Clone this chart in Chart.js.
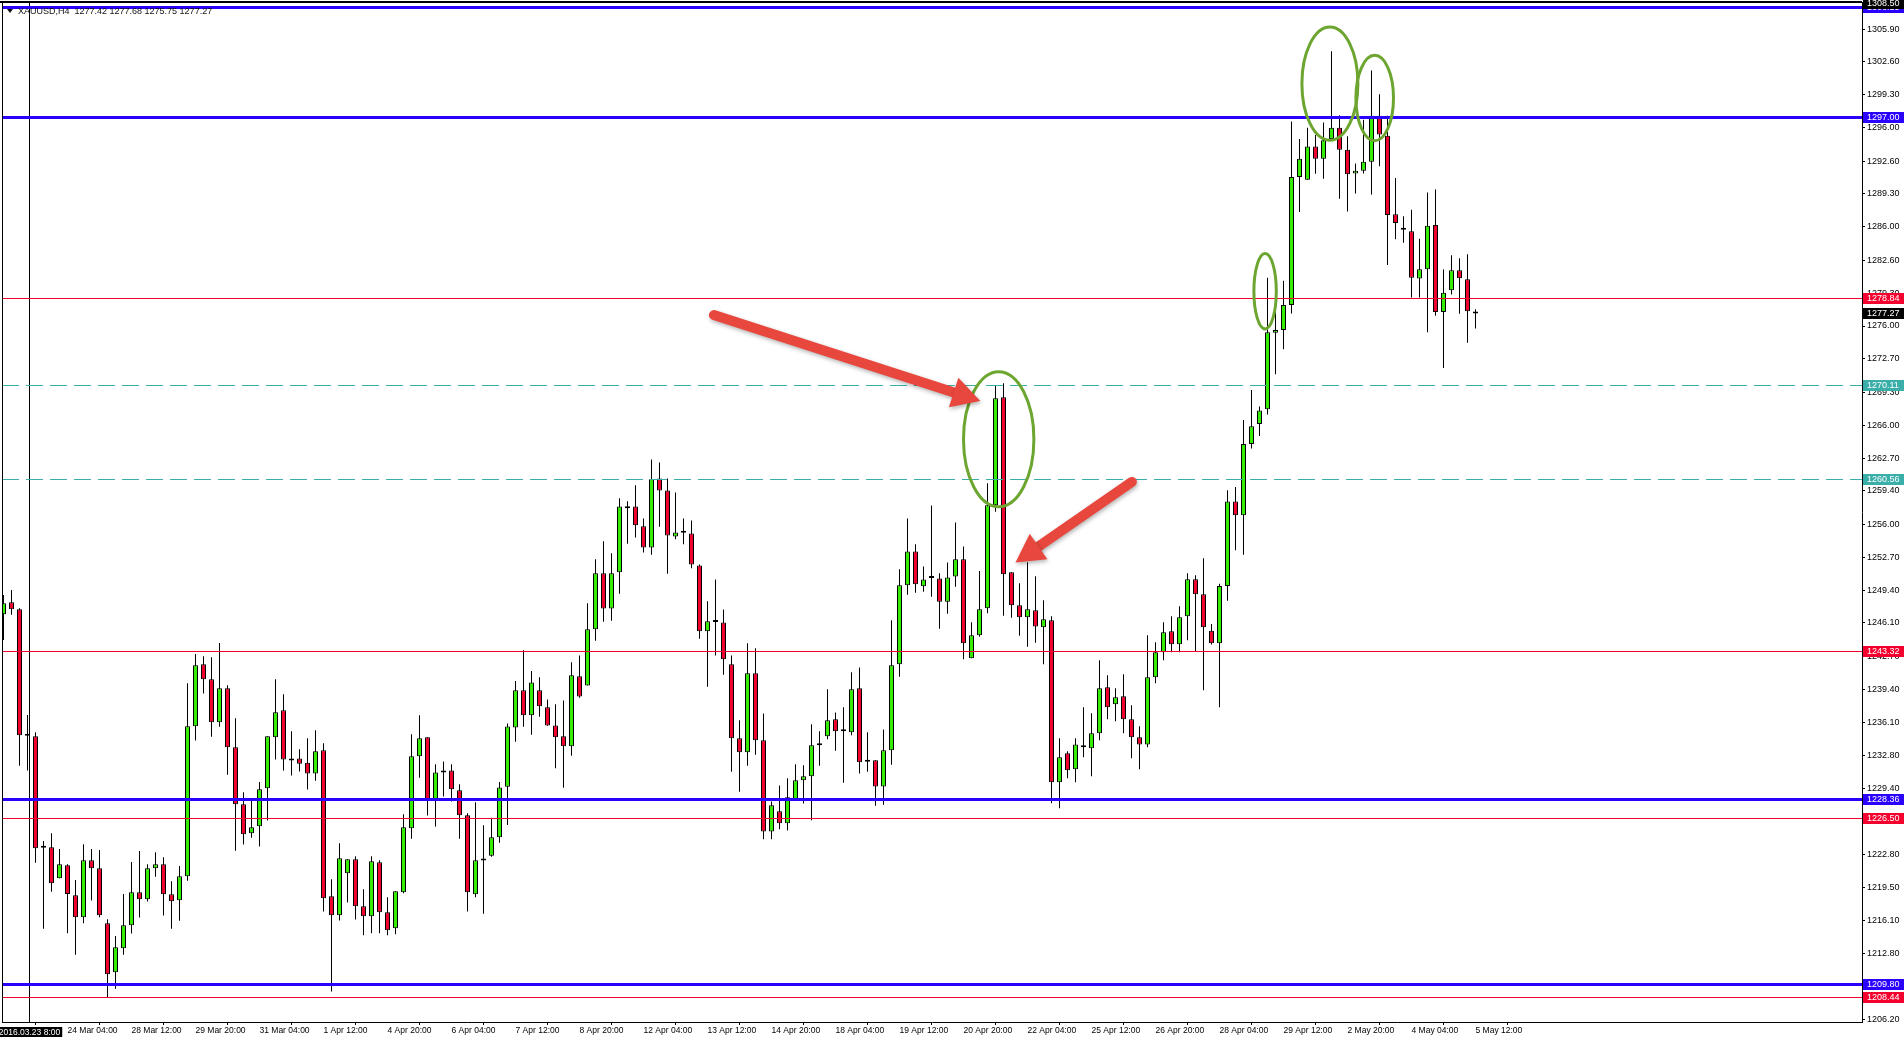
<!DOCTYPE html>
<html>
<head>
<meta charset="utf-8">
<title>XAUUSD,H4</title>
<script src="https://cdn.jsdelivr.net/npm/chart.js@4.4.1/dist/chart.umd.min.js"></script>
<style>
  html, body { margin: 0; padding: 0; background: #fff; overflow: hidden; }
  #wrap { width: 1904px; height: 1043px; }
</style>
</head>
<body>
<div id="wrap"><canvas id="priceChart" width="1904" height="1043"></canvas></div>
<script>
// XAUUSD H4 candles, 22 Mar 20:00 .. 5 May 12:00 (one entry per candle)
const opens = [
  1246.97, 1248.18, 1247.48, 1234.76, 1234.69, 1223.48, 1223.52, 1220.40, 1221.71, 1218.69,
  1216.47, 1222.21, 1221.40, 1215.87, 1210.93, 1213.35, 1215.67, 1218.99, 1218.28, 1221.40,
  1221.81, 1218.79, 1218.18, 1220.60, 1235.70, 1241.94, 1240.43, 1236.10, 1239.52, 1233.58,
  1227.85, 1224.93, 1225.63, 1229.46, 1234.59, 1237.31, 1232.45, 1232.45, 1232.04, 1230.94,
  1233.29, 1218.59, 1216.68, 1220.90, 1222.31, 1217.58, 1216.57, 1222.01, 1216.98, 1215.37,
  1218.99, 1225.43, 1232.68, 1234.59, 1228.35, 1231.04, 1231.24, 1229.26, 1226.74, 1218.79,
  1222.18, 1222.67, 1224.52, 1229.62, 1235.59, 1239.32, 1236.80, 1239.32, 1237.61, 1235.79,
  1234.69, 1233.68, 1240.73, 1239.82, 1245.46, 1251.10, 1247.57, 1251.20, 1257.84, 1257.84,
  1255.83, 1253.71, 1260.66, 1259.45, 1254.82, 1255.19, 1255.12, 1251.90, 1245.26, 1246.20,
  1246.16, 1241.94, 1234.49, 1233.08, 1241.03, 1234.29, 1225.12, 1227.14, 1225.93, 1228.35,
  1230.26, 1230.66, 1233.78, 1234.69, 1236.40, 1235.19, 1235.09, 1239.52, 1232.14, 1232.27,
  1229.65, 1233.28, 1241.94, 1249.89, 1253.31, 1249.79, 1250.63, 1250.59, 1248.24, 1250.79,
  1252.51, 1242.54, 1244.86, 1247.58, 1257.95, 1268.82, 1251.20, 1247.88, 1246.67, 1247.38,
  1245.66, 1246.37, 1230.06, 1232.98, 1231.37, 1233.78, 1233.48, 1235.00, 1239.62, 1237.91,
  1238.72, 1236.40, 1234.59, 1233.88, 1240.63, 1243.15, 1245.26, 1243.95, 1246.77, 1250.50,
  1248.99, 1245.33, 1244.06, 1249.83, 1258.34, 1256.95, 1264.11, 1266.14, 1267.62, 1275.33,
  1275.60, 1278.12, 1291.00, 1290.73, 1294.07, 1292.85, 1294.83, 1295.96, 1293.75, 1291.36,
  1291.63, 1292.53, 1297.17, 1295.15, 1287.26, 1285.69, 1285.55, 1280.78, 1281.72, 1286.18,
  1277.40, 1279.59, 1281.61, 1280.70, 1277.42
];
const highs = [
  1248.92, 1249.42, 1247.58, 1236.84, 1235.09, 1224.16, 1224.93, 1223.35, 1221.81, 1220.23,
  1223.82, 1223.35, 1223.25, 1216.27, 1214.59, 1218.82, 1222.04, 1223.15, 1221.81, 1223.01,
  1222.51, 1220.09, 1221.64, 1240.03, 1242.98, 1242.75, 1242.65, 1244.09, 1239.83, 1236.50,
  1229.05, 1228.29, 1230.10, 1234.69, 1240.43, 1238.92, 1235.20, 1233.39, 1234.49, 1235.30,
  1233.99, 1220.30, 1223.92, 1222.31, 1222.61, 1219.29, 1222.61, 1222.21, 1218.49, 1219.09,
  1226.84, 1234.90, 1236.81, 1234.59, 1231.88, 1232.15, 1231.88, 1229.86, 1226.94, 1228.05,
  1225.73, 1226.50, 1230.09, 1235.99, 1240.26, 1243.35, 1241.27, 1240.63, 1238.41, 1237.91,
  1238.31, 1242.14, 1242.84, 1248.08, 1252.51, 1254.32, 1253.11, 1258.65, 1258.35, 1259.96,
  1256.63, 1262.57, 1262.27, 1260.66, 1259.25, 1256.63, 1256.43, 1252.00, 1248.28, 1250.49,
  1247.47, 1242.84, 1236.30, 1244.05, 1243.55, 1237.00, 1228.14, 1229.75, 1230.46, 1231.87,
  1231.77, 1235.90, 1235.19, 1239.42, 1237.10, 1237.61, 1241.13, 1241.63, 1235.09, 1232.27,
  1235.39, 1246.37, 1251.50, 1256.63, 1254.02, 1251.80, 1257.94, 1251.10, 1252.20, 1256.23,
  1253.81, 1246.17, 1251.34, 1260.16, 1270.06, 1270.23, 1251.20, 1250.09, 1252.21, 1250.80,
  1248.38, 1246.77, 1234.49, 1233.18, 1234.49, 1237.61, 1237.01, 1242.34, 1240.83, 1239.52,
  1240.93, 1237.81, 1235.70, 1244.86, 1244.15, 1246.17, 1246.77, 1247.78, 1251.10, 1250.90,
  1252.61, 1246.00, 1250.06, 1259.47, 1259.79, 1266.54, 1269.56, 1267.89, 1280.87, 1277.71,
  1280.55, 1296.59, 1294.83, 1295.96, 1295.24, 1296.50, 1303.66, 1297.22, 1295.10, 1292.35,
  1296.77, 1301.72, 1299.34, 1297.17, 1290.91, 1287.04, 1287.71, 1284.79, 1289.43, 1289.74,
  1281.68, 1283.12, 1282.81, 1283.22, 1277.68
];
const lows = [
  1244.39, 1246.94, 1231.74, 1231.24, 1221.97, 1215.33, 1219.05, 1220.40, 1214.86, 1212.71,
  1215.87, 1218.15, 1216.47, 1208.42, 1209.29, 1212.71, 1214.83, 1216.44, 1218.05, 1220.56,
  1216.64, 1215.33, 1216.13, 1220.16, 1234.26, 1238.99, 1234.66, 1235.66, 1230.83, 1223.18,
  1223.79, 1224.49, 1223.59, 1226.21, 1232.35, 1231.24, 1230.74, 1231.14, 1229.33, 1230.23,
  1217.05, 1208.99, 1216.14, 1217.95, 1216.24, 1214.66, 1214.86, 1214.86, 1214.66, 1214.76,
  1218.89, 1224.39, 1230.53, 1226.71, 1225.60, 1228.62, 1228.12, 1224.39, 1217.05, 1218.49,
  1216.84, 1222.57, 1223.98, 1225.76, 1234.15, 1235.66, 1234.86, 1236.67, 1235.76, 1231.47,
  1229.52, 1232.74, 1238.58, 1239.82, 1244.32, 1246.23, 1246.33, 1249.05, 1254.08, 1254.72,
  1253.21, 1252.98, 1255.80, 1251.06, 1254.52, 1254.02, 1251.60, 1244.52, 1239.69, 1242.84,
  1240.90, 1231.13, 1229.12, 1231.74, 1232.84, 1224.32, 1224.32, 1225.33, 1225.22, 1228.35,
  1227.94, 1226.23, 1231.74, 1234.39, 1233.24, 1230.02, 1234.79, 1230.96, 1231.13, 1227.71,
  1227.81, 1231.84, 1240.70, 1248.95, 1249.15, 1249.25, 1248.75, 1245.53, 1247.04, 1249.75,
  1242.44, 1242.54, 1244.72, 1247.07, 1257.31, 1246.84, 1246.64, 1244.82, 1243.72, 1244.12,
  1241.94, 1227.95, 1227.44, 1230.46, 1230.06, 1232.58, 1230.66, 1234.29, 1236.40, 1236.20,
  1235.00, 1232.48, 1231.37, 1233.58, 1240.03, 1242.34, 1243.15, 1243.15, 1244.36, 1243.25,
  1239.32, 1243.93, 1237.62, 1248.34, 1253.43, 1252.98, 1263.66, 1264.92, 1267.08, 1271.14,
  1273.66, 1277.26, 1287.49, 1290.73, 1291.32, 1290.82, 1294.65, 1288.80, 1287.53, 1289.34,
  1291.36, 1289.25, 1292.08, 1282.13, 1284.74, 1284.38, 1278.88, 1278.88, 1275.37, 1277.04,
  1271.77, 1279.16, 1277.24, 1274.32, 1275.75
];
const closes = [
  1248.08, 1247.48, 1234.79, 1234.76, 1223.42, 1223.48, 1219.89, 1221.81, 1218.82, 1216.47,
  1222.21, 1221.40, 1216.67, 1210.73, 1213.45, 1215.67, 1218.99, 1218.28, 1221.40, 1221.81,
  1218.79, 1218.08, 1220.60, 1235.70, 1241.84, 1240.43, 1236.10, 1239.52, 1233.58, 1227.85,
  1224.83, 1225.53, 1229.36, 1234.69, 1237.11, 1232.35, 1232.25, 1231.94, 1230.94, 1233.18,
  1218.39, 1216.68, 1222.41, 1222.31, 1217.58, 1216.57, 1222.11, 1216.98, 1215.16, 1219.09,
  1225.53, 1232.68, 1234.49, 1228.35, 1231.04, 1231.24, 1229.36, 1226.74, 1218.99, 1222.21,
  1222.18, 1224.52, 1229.55, 1235.69, 1239.32, 1236.80, 1240.12, 1237.71, 1235.79, 1234.59,
  1233.68, 1240.83, 1238.71, 1245.46, 1251.10, 1247.57, 1251.10, 1257.84, 1257.64, 1255.93,
  1253.71, 1260.56, 1259.45, 1254.92, 1255.22, 1255.19, 1252.00, 1245.26, 1246.27, 1246.20,
  1242.44, 1234.49, 1233.08, 1241.03, 1234.29, 1225.12, 1227.74, 1225.93, 1228.55, 1230.26,
  1230.66, 1233.78, 1233.78, 1236.30, 1235.19, 1235.19, 1239.42, 1232.07, 1232.14, 1229.65,
  1233.28, 1241.84, 1249.89, 1253.31, 1249.99, 1250.49, 1250.63, 1248.24, 1250.69, 1252.51,
  1244.05, 1244.86, 1247.48, 1257.95, 1268.72, 1251.00, 1247.88, 1246.67, 1247.48, 1245.76,
  1246.47, 1230.06, 1232.58, 1231.27, 1233.88, 1233.58, 1235.00, 1239.52, 1237.61, 1238.62,
  1236.40, 1234.59, 1233.88, 1240.63, 1243.15, 1245.16, 1243.95, 1246.67, 1250.50, 1248.99,
  1245.66, 1244.06, 1249.83, 1258.34, 1256.95, 1264.11, 1265.91, 1267.49, 1275.37, 1275.60,
  1278.12, 1291.00, 1292.85, 1294.07, 1292.85, 1294.70, 1295.96, 1293.75, 1291.27, 1291.63,
  1292.53, 1297.17, 1295.28, 1287.17, 1286.36, 1285.69, 1280.87, 1281.72, 1286.09, 1277.40,
  1279.34, 1281.61, 1280.80, 1277.48, 1277.27
];

// Time axis labels (every 8th candle)
const xTickIndex = [8, 16, 24, 32, 40, 48, 56, 64, 72, 80, 88, 96, 104, 112, 120, 128, 136, 144, 152, 160, 168, 176, 184];
const xTickLabels = ['24 Mar 04:00', '28 Mar 12:00', '29 Mar 20:00', '31 Mar 04:00', '1 Apr 12:00', '4 Apr 20:00',
  '6 Apr 04:00', '7 Apr 12:00', '8 Apr 20:00', '12 Apr 04:00', '13 Apr 12:00', '14 Apr 20:00', '18 Apr 04:00',
  '19 Apr 12:00', '20 Apr 20:00', '22 Apr 04:00', '25 Apr 12:00', '26 Apr 20:00', '28 Apr 04:00', '29 Apr 12:00',
  '2 May 20:00', '4 May 04:00', '5 May 12:00'];

// Price axis labels
const yTickValues = [1305.90, 1302.60, 1299.30, 1296.00, 1292.60, 1289.30, 1286.00, 1282.60, 1279.30, 1276.00,
  1272.70, 1269.30, 1266.00, 1262.70, 1259.40, 1256.00, 1252.70, 1249.40, 1246.10, 1242.70, 1239.40, 1236.10,
  1232.80, 1229.40, 1226.10, 1222.80, 1219.50, 1216.10, 1212.80, 1209.50, 1206.20];

// Horizontal levels drawn on the chart
const levelPrices = [1308.15, 1297.00, 1278.84, 1270.11, 1260.56, 1243.32, 1228.36, 1226.50, 1209.80, 1208.44];
const levelKinds = ['blue', 'blue', 'red', 'teal', 'teal', 'red', 'blue', 'red', 'blue', 'red'];

const symbolTitle = 'XAUUSD,H4  1277.42 1277.68 1275.75 1277.27';
const topPriceLabel = 1308.50;
const lastPrice = 1277.27;
const separatorTime = '2016.03.23 8:00';
const separatorCandle = 3;

// Hand drawn marks, in candle index / price units
const ellipses = [
    { x: 124.4, y: 1264.6, rx: 4.4, ry: 6.8 },
    { x: 157.7, y: 1279.5, rx: 1.4, ry: 3.8 },
    { x: 165.8, y: 1300.4, rx: 3.5, ry: 5.7 },
    { x: 171.4, y: 1298.95, rx: 2.35, ry: 4.3 }
];
const arrows = [
    { x1: 88.8, y1: 1277.1, x2: 122.1, y2: 1268.45 },
    { x1: 141.05, y1: 1260.3, x2: 126.5, y2: 1252.2 }
];

const UP = '#33EE00';
const DOWN = '#F0002D';
const levelStyle = {
    blue: { color: '#2A00FF', width: 3, dash: [] },
    red: { color: '#F5002E', width: 1, dash: [] },
    teal: { color: '#3AAFA9', width: 1, dash: [17, 7] }
};

function drawArrow(ctx, x1, y1, x2, y2) {
    const ang = Math.atan2(y2 - y1, x2 - x1);
    const cos = Math.cos(ang), sin = Math.sin(ang);
    const headLen = 28, headW = 31;
    const bx = x2 - cos * headLen, by = y2 - sin * headLen;
    ctx.save();
    ctx.shadowColor = 'rgba(0,0,0,0.3)';
    ctx.shadowBlur = 4;
    ctx.shadowOffsetX = 1;
    ctx.shadowOffsetY = 2;
    ctx.strokeStyle = '#E8473E';
    ctx.fillStyle = '#E8473E';
    ctx.lineWidth = 10;
    ctx.lineCap = 'round';
    ctx.beginPath();
    ctx.moveTo(x1, y1);
    ctx.lineTo(bx + cos * 2, by + sin * 2);
    ctx.stroke();
    ctx.beginPath();
    ctx.moveTo(x2, y2);
    ctx.lineTo(bx + sin * headW / 2, by - cos * headW / 2);
    ctx.lineTo(bx - sin * headW / 2, by + cos * headW / 2);
    ctx.closePath();
    ctx.fill();
    ctx.restore();
}

function drawBox(ctx, chart, yPix, text, bg) {
    const left = chart.chartArea.right + 1;
    ctx.fillStyle = bg;
    ctx.fillRect(left, Math.round(yPix) - 5, chart.width - left, 11);
    ctx.fillStyle = '#fff';
    ctx.font = '9px "Liberation Sans", Arial, sans-serif';
    ctx.textAlign = 'left';
    ctx.textBaseline = 'middle';
    ctx.fillText(text, left + 4, Math.round(yPix) + 0.5);
}

const mt4Overlay = {
    id: 'mt4Overlay',
    afterDatasetsDraw(chart) {
        const { ctx, chartArea: a, scales } = chart;
        const x = scales.x, y = scales.y;
        ctx.save();

        // period separator
        const sx = Math.round(x.getPixelForValue(separatorCandle)) + 1.5;
        ctx.strokeStyle = '#000';
        ctx.lineWidth = 1;
        ctx.beginPath();
        ctx.moveTo(sx, a.top);
        ctx.lineTo(sx, a.bottom);
        ctx.stroke();

        // horizontal levels
        levelPrices.forEach((p, i) => {
            const st = levelStyle[levelKinds[i]];
            const py = Math.round(y.getPixelForValue(p)) + 0.5;
            ctx.strokeStyle = st.color;
            ctx.lineWidth = st.width;
            ctx.setLineDash(st.dash);
            ctx.beginPath();
            ctx.moveTo(a.left, py);
            ctx.lineTo(a.right, py);
            ctx.stroke();
        });
        ctx.setLineDash([]);

        // frame
        ctx.strokeStyle = '#000';
        ctx.lineWidth = 2;
        ctx.beginPath();
        ctx.moveTo(0, a.top);
        ctx.lineTo(a.right, a.top);
        ctx.stroke();
        ctx.lineWidth = 1;
        ctx.beginPath();
        ctx.moveTo(a.left + 0.5, a.top);
        ctx.lineTo(a.left + 0.5, a.bottom);
        ctx.stroke();

        // ellipses
        ctx.strokeStyle = '#6CA52F';
        ctx.lineWidth = 3;
        ellipses.forEach(e => {
            const cx = x.getPixelForValue(e.x);
            const cy = y.getPixelForValue(e.y);
            const rx = Math.abs(x.getPixelForValue(e.x + e.rx) - cx);
            const ry = Math.abs(y.getPixelForValue(e.y + e.ry) - cy);
            ctx.beginPath();
            ctx.ellipse(cx, cy, rx, ry, 0, 0, Math.PI * 2);
            ctx.stroke();
        });

        // arrows
        arrows.forEach(r => {
            drawArrow(ctx, x.getPixelForValue(r.x1), y.getPixelForValue(r.y1),
                x.getPixelForValue(r.x2), y.getPixelForValue(r.y2));
        });

        // symbol header
        ctx.fillStyle = '#111';
        ctx.beginPath();
        ctx.moveTo(a.left + 5, a.top + 7);
        ctx.lineTo(a.left + 11, a.top + 7);
        ctx.lineTo(a.left + 8, a.top + 11);
        ctx.closePath();
        ctx.fill();
        ctx.font = '9px "Liberation Sans", Arial, sans-serif';
        ctx.textAlign = 'left';
        ctx.textBaseline = 'middle';
        ctx.fillText(symbolTitle, a.left + 16, a.top + 9.5);

        ctx.restore();
    },
    afterDraw(chart) {
        const { ctx, chartArea: a, scales } = chart;
        const x = scales.x, y = scales.y;
        ctx.save();

        // price boxes on the right axis
        levelPrices.forEach((p, i) => {
            drawBox(ctx, chart, y.getPixelForValue(p), p.toFixed(2), levelStyle[levelKinds[i]].color);
        });
        drawBox(ctx, chart, y.getPixelForValue(lastPrice), lastPrice.toFixed(2), '#000');
        drawBox(ctx, chart, y.getPixelForValue(topPriceLabel), topPriceLabel.toFixed(2), '#000');

        // separator time box
        const sx = Math.round(x.getPixelForValue(separatorCandle)) + 1.5;
        ctx.font = '8.5px "Liberation Sans", Arial, sans-serif';
        const w = ctx.measureText(separatorTime).width + 4;
        ctx.fillStyle = '#000';
        ctx.fillRect(sx - w / 2, a.bottom + 5, w, 10);
        ctx.fillStyle = '#fff';
        ctx.textAlign = 'center';
        ctx.textBaseline = 'middle';
        ctx.fillText(separatorTime, sx, a.bottom + 10.5);
        ctx.restore();
    }
};

document.addEventListener('DOMContentLoaded', function() {
    const wickData = lows.map((l, i) => ({ x: i, y: [l, highs[i]] }));
    const bodyData = opens.map((o, i) => ({ x: i, y: [o, closes[i]] }));
    const bodyColors = opens.map((o, i) => closes[i] >= o ? UP : DOWN);

    new Chart(document.getElementById('priceChart'), {
        type: 'bar',
        data: {
            datasets: [{
                label: 'wick',
                data: wickData,
                backgroundColor: '#000',
                borderWidth: 0,
                grouped: false,
                maxBarThickness: 1,
                barPercentage: 1,
                categoryPercentage: 1,
                inflateAmount: 0,
                order: 2
            }, {
                label: 'body',
                data: bodyData,
                backgroundColor: bodyColors,
                borderColor: '#000',
                borderWidth: 1,
                borderSkipped: false,
                grouped: false,
                maxBarThickness: 5,
                barPercentage: 1,
                categoryPercentage: 1,
                inflateAmount: 0,
                minBarLength: 2,
                order: 1
            }]
        },
        options: {
            responsive: false,
            devicePixelRatio: 1,
            animation: false,
            events: [],
            layout: { padding: { left: 2, top: 2, right: 0, bottom: 0 } },
            plugins: {
                legend: { display: false },
                tooltip: { enabled: false }
            },
            scales: {
                x: {
                    type: 'linear',
                    offset: false,
                    min: -0.1875,
                    max: 232.3125,
                    afterBuildTicks: scale => { scale.ticks = xTickIndex.map(v => ({ value: v })); },
                    afterFit: scale => {
                        scale.height = 21;
                        scale.paddingLeft = 0;
                        scale.paddingRight = 0;
                    },
                    grid: { drawOnChartArea: false, drawTicks: true, tickLength: 3, color: '#000' },
                    border: { display: true, color: '#000', width: 1 },
                    ticks: {
                        autoSkip: false,
                        maxRotation: 0,
                        align: 'start',
                        padding: 1,
                        color: '#000',
                        font: { family: '"Liberation Sans", Arial, sans-serif', size: 8.5 },
                        callback: value => {
                            const k = xTickIndex.indexOf(value);
                            return k >= 0 ? xTickLabels[k] : '';
                        }
                    }
                },
                y: {
                    type: 'linear',
                    position: 'right',
                    min: 1205.93,
                    max: 1308.62,
                    beginAtZero: false,
                    afterBuildTicks: scale => { scale.ticks = yTickValues.map(v => ({ value: v })); },
                    afterFit: scale => {
                        scale.width = 42;
                        scale.paddingTop = 0;
                        scale.paddingBottom = 0;
                    },
                    grid: { drawOnChartArea: false, drawTicks: true, tickLength: 3, color: '#000' },
                    border: { display: true, color: '#000', width: 1 },
                    ticks: {
                        autoSkip: false,
                        padding: 2,
                        color: '#000',
                        font: { family: '"Liberation Sans", Arial, sans-serif', size: 9 },
                        callback: value => Number(value).toFixed(2)
                    }
                }
            }
        },
        plugins: [mt4Overlay]
    });
    console.log('Chart drawn, candles:', opens.length);
});
</script>
</body>
</html>
